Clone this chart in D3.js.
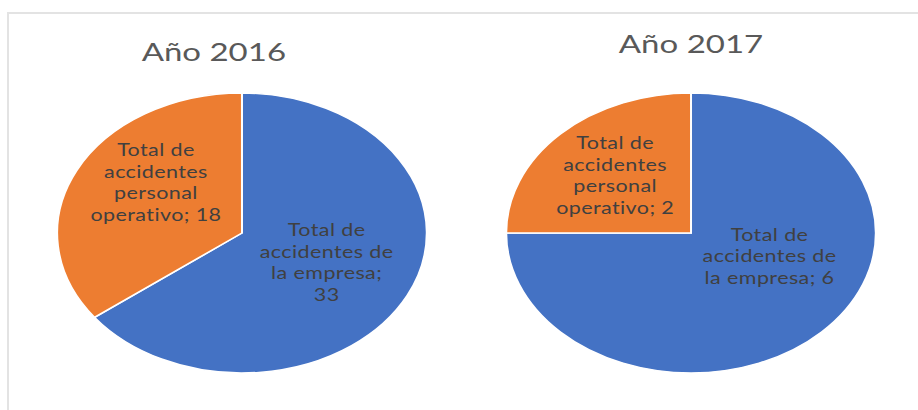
<!DOCTYPE html>
<html>
<head>
<meta charset="utf-8">
<script src="https://cdn.jsdelivr.net/npm/d3@7"></script>
<style>
  html, body { margin: 0; padding: 0; background: #fff; }
  svg { display: block; }
</style>
</head>
<body>
<div id="chart"></div>
<script>
// data
const years = ["Año 2016", "Año 2017"];
const categories = [
  "Total de accidentes de la empresa",
  "Total de accidentes personal operativo"
];
const values2016 = [33, 18];
const values2017 = [6, 2];
const seriesValues = [values2016, values2017];

// layout (the source image is stretched horizontally, so everything is drawn
// in an unstretched frame and scaled on x)
const width = 918, height = 410;
const stretchX = 1.32;
const radius = 140;
const pieY = 233;
const titleX = [162, 523.5];
const titleY = [61, 53];
const labelFrac = 0.52;
const labelNudge = [[[-1, -3], [0, -18]], [[8, -28], [-6, -6]]];
const colors = ["#4472C4", "#ED7D31"];

const svg = d3.select("#chart").append("svg")
  .attr("width", width)
  .attr("height", height);

// chart frame
svg.append("path")
  .attr("d", `M8,${height}V13H${width}`)
  .attr("fill", "none")
  .attr("stroke", "#e3e3e3")
  .attr("stroke-width", 2);

const root = svg.append("g")
  .attr("transform", `scale(${stretchX},1)`);

const x = d3.scalePoint()
  .domain(years)
  .range([183.3, 523.5]);

const pie = d3.pie().sort(null).value(d => d);
const arc = d3.arc().innerRadius(0).outerRadius(radius);
const labelArc = d3.arc().innerRadius(radius * labelFrac).outerRadius(radius * labelFrac);

function wrap(textSel, maxWidth, words, lineHeight) {
  const lines = [];
  let line = [];
  const probe = textSel.append("tspan");
  words.forEach(w => {
    const test = line.concat([w]).join(" ");
    probe.text(test);
    if (line.length && probe.node().getComputedTextLength() > maxWidth) {
      lines.push(line.join(" "));
      line = [w];
    } else {
      line.push(w);
    }
  });
  lines.push(line.join(" "));
  probe.remove();
  const y0 = -(lines.length - 1) / 2 * lineHeight + 6;
  lines.forEach((l, i) => {
    textSel.append("tspan")
      .attr("x", 0)
      .attr("y", y0 + i * lineHeight)
      .text(l);
  });
}

years.forEach((year, yi) => {
  root.append("text")
    .attr("x", titleX[yi])
    .attr("y", titleY[yi])
    .attr("text-anchor", "middle")
    .attr("font-family", "Lato, 'Open Sans', sans-serif")
    .attr("font-size", 25)
    .attr("fill", "#595959")
    .text(year);

  const g = root.append("g")
    .attr("transform", `translate(${x(year)},${pieY})`);

  const arcs = pie(seriesValues[yi]);

  g.selectAll("path")
    .data(arcs)
    .enter().append("path")
    .attr("d", arc)
    .attr("fill", (d, i) => colors[i])
    .attr("stroke", "#fff")
    .attr("stroke-width", 1.5);

  g.selectAll("text.lbl")
    .data(arcs)
    .enter().append("text")
    .attr("class", "lbl")
    .attr("transform", (d, i) => {
      const c = labelArc.centroid(d);
      const n = labelNudge[yi][i];
      return `translate(${c[0] + n[0]},${c[1] + n[1]})`;
    })
    .attr("text-anchor", "middle")
    .attr("font-family", "Lato, 'Open Sans', sans-serif")
    .attr("font-size", 16.3)
    .attr("letter-spacing", 0.3)
    .attr("fill", "#404040")
    .each(function (d, i) {
      const words = (categories[i] + "; " + d.value).split(" ");
      wrap(d3.select(this), 103, words, 21.7);
    });
});
</script>
</body>
</html>
